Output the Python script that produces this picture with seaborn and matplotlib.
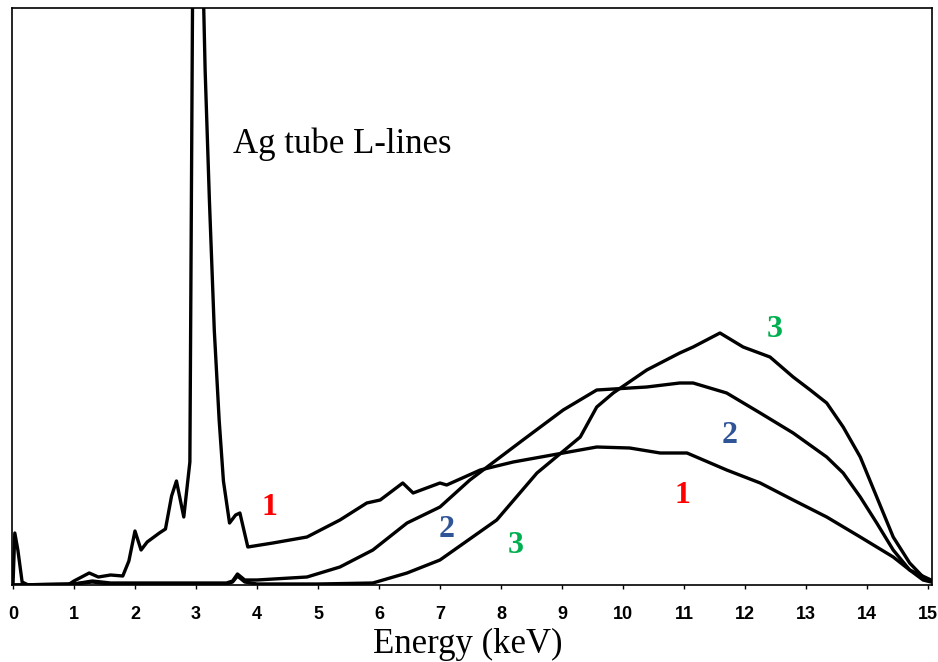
import matplotlib
matplotlib.use("Agg")
import matplotlib.pyplot as plt
import seaborn as sns
import pandas as pd

# ---- data (y in arbitrary intensity units) ----
e1 = [0.0, 0.03, 0.08, 0.15, 0.25, 0.9, 1.0, 1.25, 1.4, 1.6, 1.8, 1.9, 2.0, 2.1, 2.2, 2.4, 2.5,
      2.6, 2.68, 2.8, 2.9, 2.95, 3.1, 3.15, 3.22, 3.3, 3.38, 3.45, 3.55, 3.65, 3.72, 3.85, 4.26,
      4.82, 5.36, 5.8, 6.02, 6.39, 6.56, 7.0, 7.11, 7.66, 8.2, 9.02, 9.57, 10.11, 10.61, 11.05,
      11.7, 12.25, 12.79, 13.34, 13.89, 14.43, 14.7, 14.92, 15.05]
i1 = [0, 52, 35, 3, 0, 0, 4, 12, 8, 10, 9, 24, 54, 35, 43, 52, 56,
      89, 104, 68, 123, 650, 650, 515, 385, 255, 165, 104, 62, 70, 72, 38, 42,
      48, 65, 82, 85, 102, 92, 102, 100, 115, 123, 132, 138, 137, 132, 132,
      115, 102, 85, 68, 48, 28, 15, 5, 3]

e2 = [0.0, 1.0, 1.3, 1.6, 2.0, 3.5, 3.6, 3.68, 3.8, 4.0, 4.82, 5.36, 5.9, 6.46, 7.0, 7.49,
      8.36, 9.02, 9.57, 10.39, 10.93, 11.15, 11.7, 12.25, 12.79, 13.34, 13.61, 13.89, 14.16,
      14.43, 14.7, 15.05]
i2 = [0, 1, 4, 2, 2, 2, 4, 11, 5, 5, 8, 18, 35, 62, 78, 105,
      145, 175, 195, 198, 202, 202, 192, 172, 152, 128, 112, 88, 62,
      35, 15, 5]

e3 = [0.0, 1.0, 1.3, 1.6, 2.0, 3.5, 3.6, 3.68, 3.8, 4.0, 5.0, 5.9, 6.46, 7.0, 7.93, 8.59, 9.3,
      9.57, 9.84, 10.39, 10.93, 11.15, 11.59, 11.97, 12.41, 12.79, 13.07, 13.34, 13.61, 13.89,
      14.16, 14.43, 14.7, 14.92, 15.05]
i3 = [0, 1, 3, 1, 1, 1, 3, 9, 3, 1, 1, 2, 12, 25, 65, 112, 148,
      178, 192, 215, 232, 238, 252, 238, 228, 208, 195, 182, 158, 128,
      88, 48, 22, 8, 4]

xticks = list(range(0, 16))
xlabel = "Energy (keV)"
annotation = "Ag tube L-lines"
label_texts = ["1", "2", "3", "1", "2", "3"]
label_e = [4.20, 7.11, 8.24, 10.98, 11.75, 12.49]
label_i = [70, 48, 32, 82, 142, 248]
label_colors = ["#ff0000", "#2f5597", "#00b050", "#ff0000", "#2f5597", "#00b050"]

df = pd.concat([
    pd.DataFrame({"E": e1, "I": i1, "s": "1"}),
    pd.DataFrame({"E": e2, "I": i2, "s": "2"}),
    pd.DataFrame({"E": e3, "I": i3, "s": "3"}),
])

sns.set_theme(style="white")
fig = plt.figure(figsize=(9.38, 6.62), dpi=100)
ax = fig.add_axes([12 / 938, 1 - 585 / 662, 920 / 938, 577 / 662])

sns.lineplot(data=df, x="E", y="I", hue="s", units="s", estimator=None, sort=False,
             palette=["black", "black", "black"], linewidth=2.4, legend=False, ax=ax)

ax.set_xlim(-0.016, 15.066)
ax.set_ylim(0, 577)
ax.set_yticks([])
ax.set_xticks(xticks)
ax.set_xticklabels([str(t) for t in xticks], fontfamily="Liberation Sans",
                   fontweight="bold", fontsize=13)
ax.tick_params(axis="x", direction="out", length=3, width=1, pad=12, colors="black",
               bottom=True)
ax.set_xlabel("")
ax.set_ylabel("")
for sp in ax.spines.values():
    sp.set_visible(True)
    sp.set_color("black")
    sp.set_linewidth(1.2)

ax.text(3.607, 432, annotation, fontfamily="Liberation Serif", fontsize=25,
        ha="left", va="baseline", color="black")

for t, x, y, c in zip(label_texts, label_e, label_i, label_colors):
    ax.text(x, y, t, fontfamily="Liberation Serif", fontweight="bold", fontsize=23,
            ha="center", va="baseline", color=c)

fig.text(467.5 / 938, 1 - 653 / 662, xlabel, fontfamily="Liberation Serif", fontsize=25,
         ha="center", va="baseline", color="black")

fig.savefig("out.png", dpi=100, facecolor="white")
